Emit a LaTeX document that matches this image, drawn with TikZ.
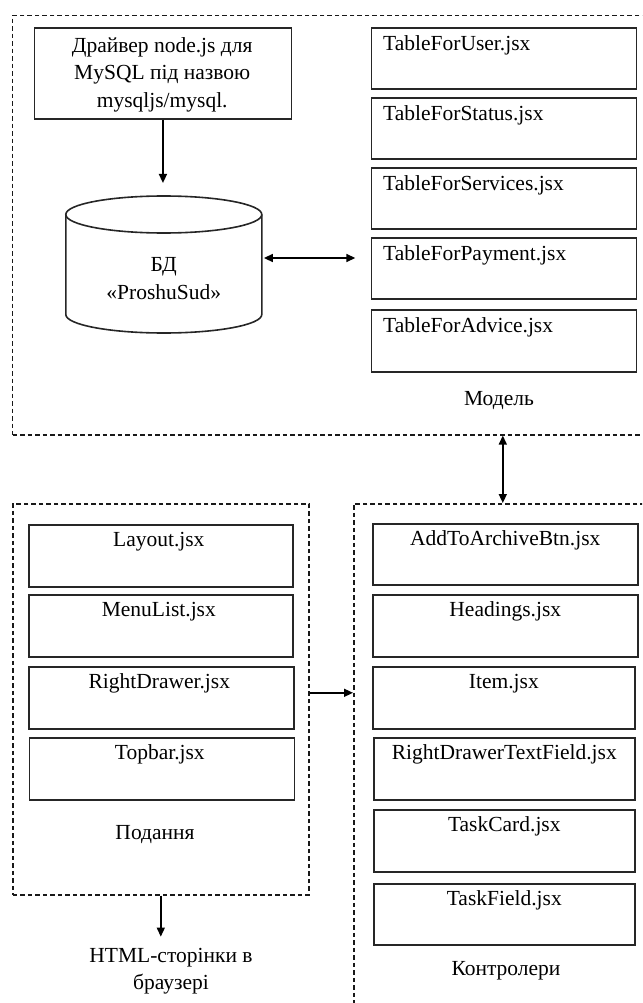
\documentclass[tikz,border=0pt]{standalone}
\usepackage{fontspec}
\setmainfont{Liberation Serif}
\usetikzlibrary{arrows.meta,calc}

\tikzset{
  box/.style={draw=black!85, line width=1.6pt, inner sep=0pt, anchor=north west},
  group/.style={draw=black!90, dash pattern=on 4.5pt off 3pt, line width=1.6pt, inner sep=0pt, anchor=north west},
  lbl/.style={inner sep=0pt, font=\fontsize{21.5}{27.5}\selectfont, text height=14.2pt, text depth=0pt},
  multi/.style={inner sep=0pt, font=\fontsize{21.5}{27.5}\selectfont, align=center},
  tip/.tip={Triangle[length=9pt,width=8pt]},
  arr/.style={-tip, line width=1.5pt},
  dbl/.style={tip-tip, line width=1.5pt},
  cyl/.style={draw=black!85, line width=1.6pt},
}

\begin{document}
\begin{tikzpicture}[x=1pt, y=-1pt]
\useasboundingbox (0,0) rectangle (642,1003);
\clip (0,0) rectangle (642,1003);

% ---- Model ----
\node[group, minimum width=640pt, minimum height=419.3pt] (mdl) at (11.7,14.7) {};
\node[box, minimum width=256.7pt, minimum height=91pt] (drv) at (33.8,27) {};
\node[multi] (drvtxt) at (162.2,74.6) {Драйвер node.js для\\MySQL під назвою\\mysqljs/mysql.};

% database cylinder
\node[inner sep=0pt, minimum width=196pt, minimum height=137pt, anchor=north west] (db) at (65.8,196) {};
\draw[cyl] (163.8,214.5) ellipse [x radius=98, y radius=18.5];
\draw[cyl] (65.8,214.5) -- (65.8,314.5) arc [start angle=180, end angle=0, x radius=98, y radius=18.5] -- (261.8,214.5);
\node[multi] (dbtxt) at (163.8,278.6) {БД\\«ProshuSud»};

% tables
\node[box, minimum width=265.2pt, minimum height=61pt] (t1) at (370.5,27) {};
\node[box, minimum width=265.2pt, minimum height=61pt] (t2) at (370.5,97) {};
\node[box, minimum width=265.2pt, minimum height=61pt] (t3) at (370.5,167) {};
\node[box, minimum width=265.2pt, minimum height=61pt] (t4) at (370.5,237) {};
\node[box, minimum width=265.2pt, minimum height=62pt] (t5) at (370.5,309) {};
\foreach \n/\t in {t1/TableForUser.jsx, t2/TableForStatus.jsx, t3/TableForServices.jsx, t4/TableForPayment.jsx, t5/TableForAdvice.jsx}
  \node[lbl, anchor=west] at ([xshift=12.5pt, yshift=-16pt]\n.north west) {\t};
\node[lbl] (mdllbl) at (499,398) {Модель};

\draw[arr, shorten >=13pt] (drv.south) -- (drv.south |- db.north);
\coordinate (dbR) at (263.9,258);
\coordinate (tblL) at (355.3,258);
\draw[dbl] (dbR) -- (tblL);

% ---- View ----
\node[group, minimum width=296pt, minimum height=391pt] (view) at (12,503) {};
\node[box, minimum width=264pt, minimum height=62pt] (v1) at (28,524) {};
\node[box, minimum width=264pt, minimum height=62pt] (v2) at (28,594) {};
\node[box, minimum width=265pt, minimum height=62pt] (v3) at (28,666) {};
\node[box, minimum width=265pt, minimum height=62pt] (v4) at (28.5,737) {};
\foreach \n/\t in {v1/Layout.jsx, v2/MenuList.jsx, v3/RightDrawer.jsx, v4/Topbar.jsx}
  \node[lbl] at ([xshift=-2pt, yshift=-15.5pt]\n.north) {\t};
\node[lbl] (viewlbl) at (155,832) {Подання};

% ---- Controllers ----
\node[group, minimum width=298pt, minimum height=520pt] (ctrl) at (353,503) {};
\node[box, minimum width=265pt, minimum height=61pt] (c1) at (372,523) {};
\node[box, minimum width=265pt, minimum height=62pt] (c2) at (372,594) {};
\node[box, minimum width=262pt, minimum height=62pt] (c3) at (372,666) {};
\node[box, minimum width=261pt, minimum height=62pt] (c4) at (373,737) {};
\node[box, minimum width=261pt, minimum height=62pt] (c5) at (373,809) {};
\node[box, minimum width=261pt, minimum height=61pt] (c6) at (373,883) {};
\foreach \n/\t in {c1/AddToArchiveBtn.jsx, c2/Headings.jsx, c3/Item.jsx, c4/RightDrawerTextField.jsx, c5/TaskCard.jsx, c6/TaskField.jsx}
  \node[lbl] at ([yshift=-15.5pt]\n.north) {\t};
\node[lbl] (ctrllbl) at (506,968) {Контролери};

% ---- Output ----
\node[multi] (html) at (171,971) {HTML-сторінки в\\браузері};

% ---- Connectors between layers ----
\draw[dbl] (ctrl.north) -- (ctrl.north |- mdl.south);
\coordinate (vout) at ([yshift=6.5pt]view.east);
\draw[arr] (vout) -- (vout -| ctrl.west);
\draw[arr, shorten >=11pt] (view.south) -- (view.south |- html.north);
\end{tikzpicture}
\end{document}
